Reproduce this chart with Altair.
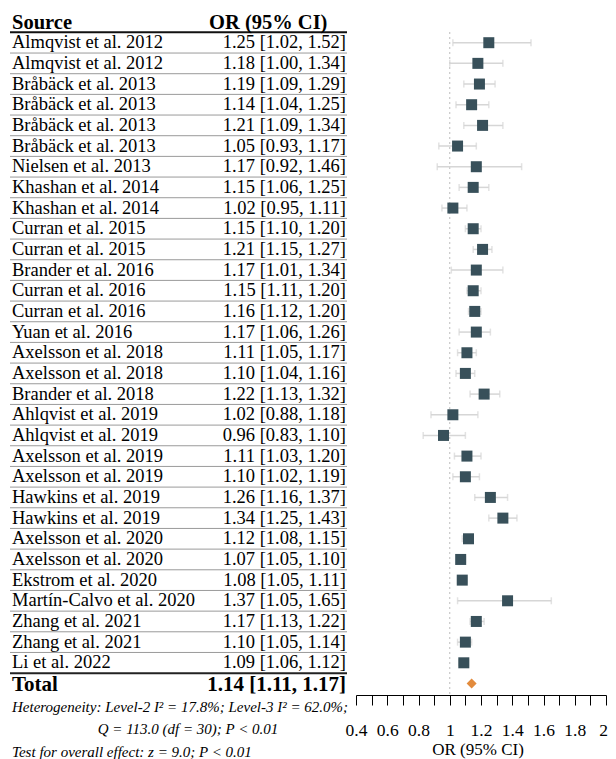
import altair as alt
import pandas as pd

# ---------------- data ----------------
sources = [
    "Almqvist et al. 2012", "Almqvist et al. 2012", "Bråbäck et al. 2013", "Bråbäck et al. 2013",
    "Bråbäck et al. 2013", "Bråbäck et al. 2013", "Nielsen et al. 2013", "Khashan et al. 2014",
    "Khashan et al. 2014", "Curran et al. 2015", "Curran et al. 2015", "Brander et al. 2016",
    "Curran et al. 2016", "Curran et al. 2016", "Yuan et al. 2016", "Axelsson et al. 2018",
    "Axelsson et al. 2018", "Brander et al. 2018", "Ahlqvist et al. 2019", "Ahlqvist et al. 2019",
    "Axelsson et al. 2019", "Axelsson et al. 2019", "Hawkins et al. 2019", "Hawkins et al. 2019",
    "Axelsson et al. 2020", "Axelsson et al. 2020", "Ekstrom et al. 2020", "Martín-Calvo et al. 2020",
    "Zhang et al. 2021", "Zhang et al. 2021", "Li et al. 2022",
]
or_vals = [1.25, 1.18, 1.19, 1.14, 1.21, 1.05, 1.17, 1.15, 1.02, 1.15, 1.21, 1.17, 1.15, 1.16, 1.17,
           1.11, 1.10, 1.22, 1.02, 0.96, 1.11, 1.10, 1.26, 1.34, 1.12, 1.07, 1.08, 1.37, 1.17, 1.10, 1.09]
ci_low = [1.02, 1.00, 1.09, 1.04, 1.09, 0.93, 0.92, 1.06, 0.95, 1.10, 1.15, 1.01, 1.11, 1.12, 1.06,
          1.05, 1.04, 1.13, 0.88, 0.83, 1.03, 1.02, 1.16, 1.25, 1.08, 1.05, 1.05, 1.05, 1.13, 1.05, 1.06]
ci_high = [1.52, 1.34, 1.29, 1.25, 1.34, 1.17, 1.46, 1.25, 1.11, 1.20, 1.27, 1.34, 1.20, 1.20, 1.26,
           1.17, 1.16, 1.32, 1.18, 1.10, 1.20, 1.19, 1.37, 1.43, 1.15, 1.10, 1.11, 1.65, 1.22, 1.14, 1.12]
total_or, total_lo, total_hi = 1.14, 1.11, 1.17
tick_values = [0.4, 0.5, 0.6, 0.7, 0.8, 0.9, 1.0, 1.1, 1.2, 1.3, 1.4, 1.5, 1.6, 1.7, 1.8, 1.9, 2.0]
het_line1 = "Heterogeneity: Level-2 I² = 17.8%; Level-3 I² = 62.0%;"
het_line2 = "Q = 113.0 (df = 30); P < 0.01"
het_line3 = "Test for overall effect: z = 9.0; P < 0.01"

n = len(sources)
rows = pd.DataFrame({"idx": list(range(n)), "source": sources, "or": or_vals,
                     "lo": ci_low, "hi": ci_high})
rows["label"] = [f"{o:.2f} [{l:.2f}, {h:.2f}]" for o, l, h in zip(or_vals, ci_low, ci_high)]
total = pd.DataFrame({"idx": [n], "source": ["Total"], "or": [total_or],
                      "label": [f"{total_or:.2f} [{total_lo:.2f}, {total_hi:.2f}]"]})

sep = pd.DataFrame({"pos": [i + 0.5 for i in range(n - 1)]})
sep_dark = pd.DataFrame({"pos": [n - 0.5]})
sep_head = pd.DataFrame({"pos": [-0.5]})

# ---------------- scales ----------------
ROW0 = 34.7
ROWH = 20.67
yscale = alt.Scale(domain=[0, n], range=[ROW0, ROW0 + ROWH * n], zero=False, nice=False)
xscale = alt.Scale(domain=[0.4, 2.0], range=[348, 598], zero=False, nice=False)

SERIF = "Liberation Serif"

xaxis = alt.Axis(
    values=tick_values,
    labelExpr="round(datum.value * 10) % 2 == 0 ? format(datum.value, '~g') : ''",
    tickSize=10, tickColor="black", domainColor="black", tickWidth=1, domainWidth=1,
    labelFont=SERIF, labelFontSize=17.5, labelColor="black", labelPadding=16,
    labelOverlap=False, labelFlush=False, grid=False, title=None,
    labelOffset={"condition": {"test": "datum.value == 2", "value": -3}, "value": 0},
)


def X(field):
    return alt.X(field, type="quantitative", scale=xscale, axis=xaxis)


def Y(field):
    return alt.Y(field, type="quantitative", scale=yscale, axis=None)


base = alt.Chart(rows)

ci_rule = base.mark_rule(color="#d6d6d6", strokeWidth=1.5).encode(x=X("lo"), x2="hi", y=Y("idx"))
cap_lo = base.mark_tick(color="#d6d6d6", thickness=1.5, size=7, orient="vertical").encode(x=X("lo"), y=Y("idx"))
cap_hi = base.mark_tick(color="#d6d6d6", thickness=1.5, size=7, orient="vertical").encode(x=X("hi"), y=Y("idx"))

ref_line = alt.Chart(pd.DataFrame({"v": [1.0]})).mark_rule(
    color="#bdbdbd", strokeDash=[2, 3], strokeWidth=1
).encode(x=X("v"), y=alt.value(24), y2=alt.value(687))

squares = base.mark_square(size=121, color="#38505a", opacity=1).encode(x=X("or"), y=Y("idx"))
diamond = alt.Chart(total).mark_point(shape="diamond", filled=True, size=100, color="#e28b3d",
                                      opacity=1).encode(x=X("or"), y=Y("idx"))

# table text
src_text = base.mark_text(align="left", baseline="alphabetic", dy=5.5, font=SERIF,
                          fontSize=18.5, color="black").encode(x=alt.value(4), y=Y("idx"), text="source")
or_text = base.mark_text(align="right", baseline="alphabetic", dy=5.5, font=SERIF,
                         fontSize=18.5, color="black").encode(x=alt.value(338), y=Y("idx"), text="label")
tot_src = alt.Chart(total).mark_text(align="left", baseline="alphabetic", dy=7.5, font=SERIF,
                                     fontSize=21, fontWeight="bold", color="black").encode(
    x=alt.value(4), y=Y("idx"), text="source")
tot_or = alt.Chart(total).mark_text(align="right", baseline="alphabetic", dy=7.5, font=SERIF,
                                    fontSize=21, fontWeight="bold", color="black").encode(
    x=alt.value(338), y=Y("idx"), text="label")

head_df = pd.DataFrame({"t": ["Source"], "u": ["OR (95% CI)"]})
head_src = alt.Chart(head_df).mark_text(align="left", baseline="alphabetic", font=SERIF, fontSize=20.5,
                                        fontWeight="bold", color="black").encode(
    x=alt.value(4), y=alt.value(21), text="t")
head_or = alt.Chart(head_df).mark_text(align="left", baseline="alphabetic", font=SERIF, fontSize=20.5,
                                       fontWeight="bold", color="black").encode(
    x=alt.value(201), y=alt.value(21), text="u")

sep_lines = alt.Chart(sep).mark_rule(color="#9a9a9a", strokeWidth=1).encode(
    y=Y("pos"), x=alt.value(2), x2=alt.value(339))
sep_dark_line = alt.Chart(sep_dark).mark_rule(color="#222222", strokeWidth=2).encode(
    y=Y("pos"), x=alt.value(2), x2=alt.value(339))
sep_head_line = alt.Chart(sep_head).mark_rule(color="#111111", strokeWidth=2).encode(
    y=Y("pos"), x=alt.value(2), x2=alt.value(339))

foot = pd.DataFrame({"a": [het_line1], "b": [het_line2], "c": [het_line3], "d": ["OR (95% CI)"]})
foot1 = alt.Chart(foot).mark_text(align="left", baseline="alphabetic", font=SERIF, fontSize=15,
                                  fontStyle="italic", color="black").encode(
    x=alt.value(4), y=alt.value(704), text="a")
foot2 = alt.Chart(foot).mark_text(align="center", baseline="alphabetic", font=SERIF, fontSize=15,
                                  fontStyle="italic", color="black").encode(
    x=alt.value(180), y=alt.value(726), text="b")
foot3 = alt.Chart(foot).mark_text(align="left", baseline="alphabetic", font=SERIF, fontSize=15,
                                  fontStyle="italic", color="black").encode(
    x=alt.value(4), y=alt.value(749), text="c")
xtitle = alt.Chart(foot).mark_text(align="center", baseline="alphabetic", font=SERIF, fontSize=17,
                                   color="black").encode(
    x=alt.value(470), y=alt.value(747), text="d")

chart = alt.layer(
    ref_line, ci_rule, cap_lo, cap_hi, squares, diamond,
    sep_lines, sep_dark_line, sep_head_line,
    head_src, head_or, src_text, or_text, tot_src, tot_or,
    foot1, foot2, foot3, xtitle,
).properties(
    width=600, height=687,
    autosize=alt.AutoSizeParams(type="none"),
    padding={"left": 0, "top": 0, "right": 0, "bottom": 66},
    background="white",
).configure_view(stroke=None)

chart.save("out.html", embed_options={"renderer": "svg", "actions": False})
